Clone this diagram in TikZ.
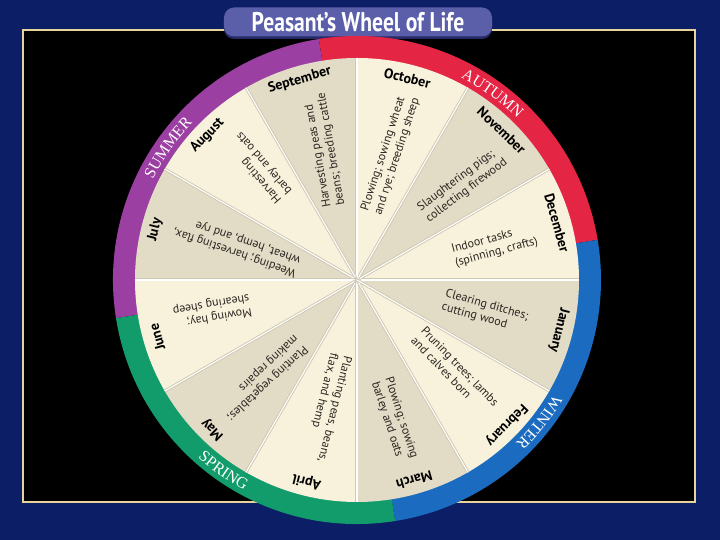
\documentclass[tikz,border=0pt]{standalone}
\usepackage{fontspec}
\setmainfont{PT Sans}
\newfontfamily\titlefont[FakeStretch=0.8]{PT Sans}
\newfontfamily\seasonfont{Liberation Serif}
\usetikzlibrary{decorations.text}
\definecolor{navy}{HTML}{0C1E66}
\definecolor{gold}{HTML}{E6D49A}
\definecolor{bannerblue}{HTML}{5B5FA9}
\definecolor{bannershadow}{HTML}{262A66}
\definecolor{summerc}{HTML}{9C3FA3}
\definecolor{autumnc}{HTML}{E42544}
\definecolor{winterc}{HTML}{1B6CC0}
\definecolor{springc}{HTML}{129C6C}
\definecolor{cream}{HTML}{F8F2DC}
\definecolor{tan}{HTML}{E2DBC6}
\definecolor{divshade}{HTML}{CFC8B2}
\definecolor{inkc}{HTML}{2A2520}
\tikzset{
  monthlabel/.style={font=\bfseries\fontsize{14}{14}\selectfont, text=black, inner sep=0pt},
  activity/.style={font=\fontsize{12}{14}\selectfont, text=inkc, align=left, inner sep=0pt},
  seasontext/.style={decorate, decoration={text along path, text align=center, text color=white}},
}
\begin{document}
\begin{tikzpicture}[x=1pt,y=1pt]
\useasboundingbox (-357,-260) rectangle (363,280);
\fill[navy] (-357,-260) rectangle (363,280);
\draw[gold, line width=2pt, fill=black] (-334,-222) rectangle (338,250);
% title banner
\fill[bannershadow, rounded corners=10pt] (-133,241) rectangle (135,271);
\node[fill=bannerblue, rounded corners=10pt, minimum width=268pt, minimum height=29pt, inner sep=0pt,
      text=white, font=\titlefont\bfseries\fontsize{27}{27}\selectfont] (title) at (1,258) {Peasant’s Wheel of Life};
% season ring
\fill[summerc] (0,0) -- (99:244) arc[start angle=99, end angle=189, radius=244] -- cycle;
\fill[autumnc] (0,0) -- (9.5:244) arc[start angle=9.5, end angle=99, radius=244] -- cycle;
\fill[winterc] (0,0) -- (-81:244) arc[start angle=-81, end angle=9.5, radius=244] -- cycle;
\fill[springc] (0,0) -- (189:244) arc[start angle=189, end angle=279, radius=244] -- cycle;
% month wedges
\foreach \m in {1,...,12}{
  \pgfmathtruncatemacro\odd{mod(\m,2)}
  \ifnum\odd=1 \def\wc{tan}\else\def\wc{cream}\fi
  \fill[\wc] (0,0) -- ({-30*(\m-1)}:222) arc[start angle={-30*(\m-1)}, end angle={-30*\m}, radius=222] -- cycle;
}
% dividers
\foreach \a in {0,30,...,330}{
  \draw[divshade, line width=3pt] (0,0) -- (\a:222);
  \draw[white, line width=1.1pt] (0,0) -- (\a:222);
}
% month labels
\foreach \m/\name in {1/January,2/February,3/March,4/April,5/May,6/June,7/July,8/August,9/September,10/October,11/November,12/December}{
  \pgfmathsetmacro\ang{-30*\m+16}
  \node[monthlabel, rotate=\ang-90] (m\m) at (\ang:208) {\name};
}
% activities
\foreach \i/\ang/\r/\rot/\txt in {
  1/-14/132/-16/{Clearing ditches;\\cutting wood},
  2/-43/134/-46/{Pruning trees; lambs\\and calves born},
  3/-75/145/-72/{Plowing; sowing\\barley and oats},
  4/-103/131/-104/{Planting peas, beans,\\flax, and hemp},
  5/-134/136/-137/{Planting vegetables;\\making repairs},
  6/-168/148/-170/{Mowing hay;\\shearing sheep},
  7/164/125/161/{Weeding; harvesting flax,\\wheat, hemp, and rye},
  8/131/149/131/{Harvesting\\barley and oats},
  9/104/134/100/{Harvesting peas and\\beans; breeding cattle},
  10/75/130/72/{Plowing; sowing wheat\\and rye; breeding sheep},
  11/42/142/37/{Slaughtering pigs;\\collecting firewood},
  12/14/142/15/{Indoor tasks\\(spinning, crafts)}}{
  \node[activity, rotate=\rot] (t\i) at (\ang:\r) {\txt};
}
% season names
\path[seasontext, decoration={text={|\seasonfont\fontsize{16}{16}\selectfont|SUMMER}}]
  (170:227.5) arc[start angle=170, end angle=120, radius=227.5];
\path[seasontext, decoration={text={|\seasonfont\fontsize{16}{16}\selectfont|AUTUMN}}]
  (79:227.5) arc[start angle=79, end angle=29, radius=227.5];
\path[seasontext, decoration={text={|\seasonfont\fontsize{16}{16}\selectfont|WINTER}}]
  (-13:227.5) arc[start angle=-13, end angle=-63, radius=227.5];
\path[seasontext, decoration={text={|\seasonfont\fontsize{16}{16}\selectfont|SPRING}}]
  (-150:238.5) arc[start angle=-150, end angle=-100, radius=238.5];
\end{tikzpicture}
\end{document}
